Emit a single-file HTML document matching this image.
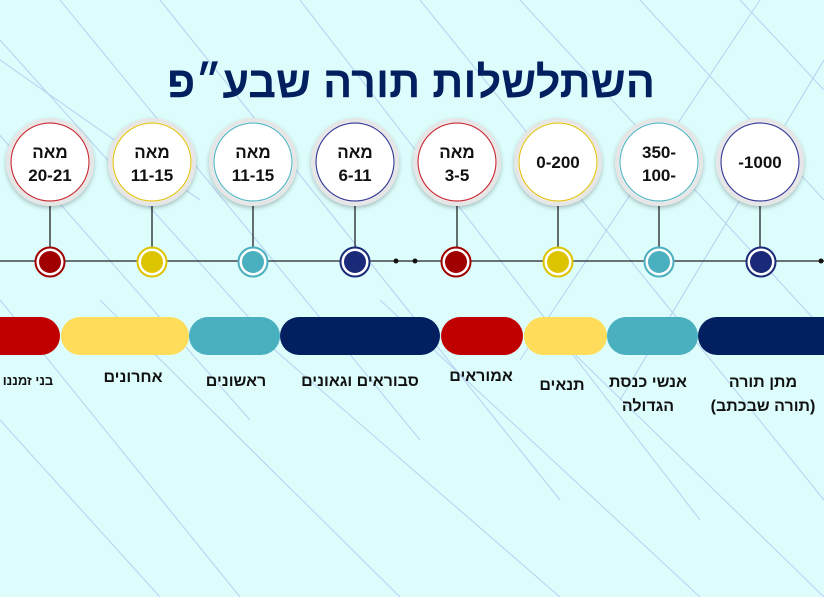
<!DOCTYPE html>
<html><head><meta charset="utf-8"><style>
html,body{margin:0;padding:0;background:#dcfdfc;}
svg{display:block}
text{font-family:"Liberation Sans","DejaVu Sans",sans-serif;font-weight:bold;}
</style></head><body>
<svg width="824" height="597" viewBox="0 0 824 597" xmlns="http://www.w3.org/2000/svg">
<defs>
<filter id="sh" x="-30%" y="-30%" width="160%" height="160%"><feDropShadow dx="0" dy="2" stdDeviation="2" flood-color="#000" flood-opacity="0.25"/></filter>
</defs>
<rect width="824" height="597" fill="#dcfdfc"/>
<g stroke="#b3cdf0" stroke-width="1.1" fill="none" opacity="0.85">
<line x1="0" y1="40" x2="260" y2="330"/>
<line x1="-40" y1="90" x2="250" y2="420"/>
<line x1="60" y1="0" x2="420" y2="440"/>
<line x1="160" y1="0" x2="560" y2="500"/>
<line x1="300" y1="0" x2="700" y2="520"/>
<line x1="420" y1="0" x2="824" y2="500"/>
<line x1="520" y1="0" x2="824" y2="330"/>
<line x1="640" y1="0" x2="824" y2="200"/>
<line x1="740" y1="0" x2="824" y2="90"/>
<line x1="0" y1="300" x2="240" y2="597"/>
<line x1="0" y1="420" x2="160" y2="597"/>
<line x1="100" y1="300" x2="400" y2="597"/>
<line x1="240" y1="320" x2="560" y2="597"/>
<line x1="380" y1="300" x2="700" y2="597"/>
<line x1="560" y1="340" x2="824" y2="597"/>
<line x1="0" y1="60" x2="200" y2="200"/>
<line x1="760" y1="0" x2="520" y2="360"/>
<line x1="824" y1="60" x2="620" y2="400"/>
</g>
<text x="411" y="97" text-anchor="middle" font-size="44" fill="#02205f" direction="rtl" textLength="488" lengthAdjust="spacingAndGlyphs">השתלשלות תורה שבע״פ</text>
<line x1="0" y1="261" x2="824" y2="261" stroke="#222" stroke-width="1.3"/>
<circle cx="396" cy="261" r="2.5" fill="#111"/><circle cx="415" cy="261" r="2.5" fill="#111"/><circle cx="821" cy="261" r="2.5" fill="#111"/>
<g stroke="#222" stroke-width="1.3">
<line x1="50" y1="205" x2="50" y2="250"/><line x1="152" y1="205" x2="152" y2="250"/><line x1="253" y1="205" x2="253" y2="250"/><line x1="355" y1="205" x2="355" y2="250"/>
<line x1="457" y1="205" x2="457" y2="250"/><line x1="558" y1="205" x2="558" y2="250"/><line x1="659" y1="205" x2="659" y2="250"/><line x1="760" y1="205" x2="760" y2="250"/>
</g>
<g>
<g fill="#a00000" stroke="#a00000"><circle cx="50" cy="262" r="14.5" fill="#fff" stroke-width="2"/><circle cx="50" cy="262" r="11" stroke="none"/></g>
<g fill="#dcc400" stroke="#dcc400"><circle cx="152" cy="262" r="14.5" fill="#fff" stroke-width="2"/><circle cx="152" cy="262" r="11" stroke="none"/></g>
<g fill="#4aafbf" stroke="#4aafbf"><circle cx="253" cy="262" r="14.5" fill="#fff" stroke-width="2"/><circle cx="253" cy="262" r="11" stroke="none"/></g>
<g fill="#1a2a78" stroke="#1a2a78"><circle cx="355" cy="262" r="14.5" fill="#fff" stroke-width="2"/><circle cx="355" cy="262" r="11" stroke="none"/></g>
<g fill="#a00000" stroke="#a00000"><circle cx="456" cy="262" r="14.5" fill="#fff" stroke-width="2"/><circle cx="456" cy="262" r="11" stroke="none"/></g>
<g fill="#dcc400" stroke="#dcc400"><circle cx="558" cy="262" r="14.5" fill="#fff" stroke-width="2"/><circle cx="558" cy="262" r="11" stroke="none"/></g>
<g fill="#4aafbf" stroke="#4aafbf"><circle cx="659" cy="262" r="14.5" fill="#fff" stroke-width="2"/><circle cx="659" cy="262" r="11" stroke="none"/></g>
<g fill="#1a2a78" stroke="#1a2a78"><circle cx="761" cy="262" r="14.5" fill="#fff" stroke-width="2"/><circle cx="761" cy="262" r="11" stroke="none"/></g>
</g>
<g filter="url(#sh)" fill="#fff" stroke="#e6e6e6" stroke-width="4">
<circle cx="50" cy="162" r="42"/><circle cx="152" cy="162" r="42"/><circle cx="253" cy="162" r="42"/><circle cx="355" cy="162" r="42"/>
<circle cx="457" cy="162" r="42"/><circle cx="558" cy="162" r="42"/><circle cx="659" cy="162" r="42"/><circle cx="760" cy="162" r="42"/>
</g>
<g fill="none" stroke-width="1.2">
<circle cx="50" cy="162" r="39" stroke="#c8323a"/><circle cx="152" cy="162" r="39" stroke="#e2c420"/><circle cx="253" cy="162" r="39" stroke="#5ab8c6"/><circle cx="355" cy="162" r="39" stroke="#3a3f96"/>
<circle cx="457" cy="162" r="39" stroke="#c8323a"/><circle cx="558" cy="162" r="39" stroke="#e2c420"/><circle cx="659" cy="162" r="39" stroke="#5ab8c6"/><circle cx="760" cy="162" r="39" stroke="#3a3f96"/>
</g>
<g font-size="17" fill="#111" text-anchor="middle">
<text x="50" y="158" direction="rtl">מאה</text><text x="50" y="181">20-21</text>
<text x="152" y="158" direction="rtl">מאה</text><text x="152" y="181">11-15</text>
<text x="253" y="158" direction="rtl">מאה</text><text x="253" y="181">11-15</text>
<text x="355" y="158" direction="rtl">מאה</text><text x="355" y="181">6-11</text>
<text x="457" y="158" direction="rtl">מאה</text><text x="457" y="181">3-5</text>
<text x="558" y="168">0-200</text>
<text x="659" y="158">350-</text><text x="659" y="181">100-</text>
<text x="760" y="168">-1000</text>
</g>
<g>
<rect x="698" y="317" width="160" height="38" rx="19" fill="#02205f"/>
<rect x="607" y="317" width="91" height="38" rx="19" fill="#4aafbf"/>
<rect x="524" y="317" width="83" height="38" rx="19" fill="#ffdd5a"/>
<rect x="441" y="317" width="82" height="38" rx="19" fill="#c00000"/>
<rect x="280" y="317" width="160" height="38" rx="19" fill="#02205f"/>
<rect x="189" y="317" width="91" height="38" rx="19" fill="#4aafbf"/>
<rect x="61" y="317" width="128" height="38" rx="19" fill="#ffdd5a"/>
<rect x="-40" y="317" width="100" height="38" rx="19" fill="#c00000"/>
</g>
<g font-size="16" fill="#111" text-anchor="middle" direction="rtl">
<text x="28" y="385" font-size="13">בני זמננו</text>
<text x="133" y="382">אחרונים</text>
<text x="236" y="386">ראשונים</text>
<text x="360" y="386">סבוראים וגאונים</text>
<text x="481" y="381">אמוראים</text>
<text x="562" y="390">תנאים</text>
<text x="648" y="387">אנשי כנסת</text>
<text x="648" y="411">הגדולה</text>
<text x="763" y="387">מתן תורה</text>
<text x="763" y="411">(תורה שבכתב)</text>
</g>
</svg>
</body></html>
